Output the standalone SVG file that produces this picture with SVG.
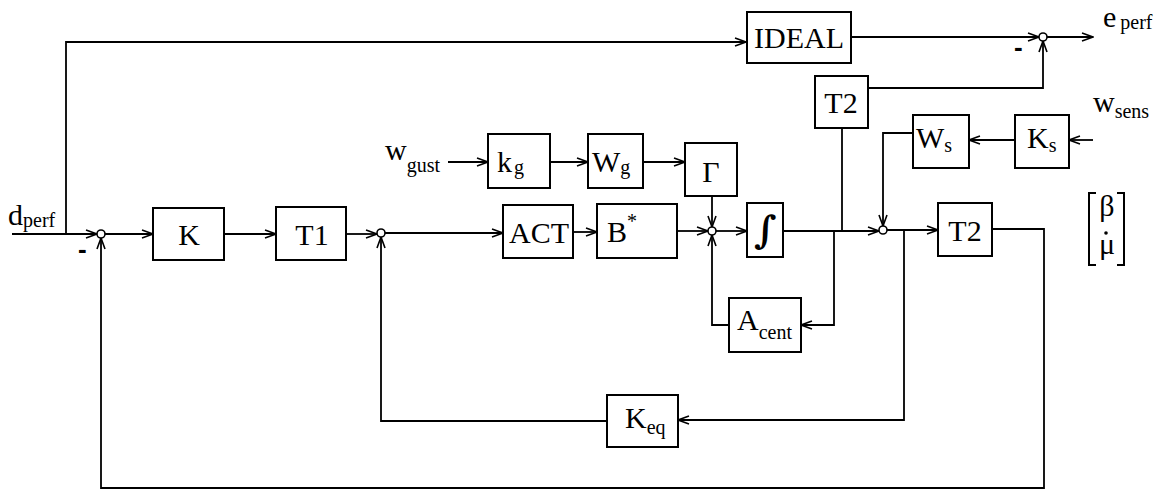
<svg xmlns="http://www.w3.org/2000/svg" width="1156" height="491" viewBox="0 0 1156 491">
<style>
.box{fill:#fff;stroke:#000;stroke-width:2}
.ln{fill:none;stroke:#000;stroke-width:1.8}
.sum{fill:#fff;stroke:#000;stroke-width:1.6}
.t{font-family:"Liberation Serif","Times New Roman",serif;font-size:30px;fill:#000}
.c{text-anchor:middle}
.sub{font-size:20px}
.minus{font-family:"Liberation Sans",Arial,sans-serif;font-size:26px;font-weight:bold;fill:#000}
</style>
<defs>
<marker id="ah" markerWidth="13" markerHeight="10" refX="12" refY="5" orient="auto" markerUnits="userSpaceOnUse">
<path d="M1,1 L12,5 L1,9" fill="none" stroke="#000" stroke-width="1.6"/>
</marker>
</defs>
<rect width="1156" height="491" fill="#fff"/>
<g id="connectors">
<path class="ln" d="M12,234 H97" marker-end="url(#ah)"/>
<path class="ln" d="M66,234 V42 H746" marker-end="url(#ah)"/>
<path class="ln" d="M105,234 H153" marker-end="url(#ah)"/>
<path class="ln" d="M224,234 H276" marker-end="url(#ah)"/>
<path class="ln" d="M346,234 H377" marker-end="url(#ah)"/>
<path class="ln" d="M385,233 H503" marker-end="url(#ah)"/>
<path class="ln" d="M573,232 H597" marker-end="url(#ah)"/>
<path class="ln" d="M677,231 H708" marker-end="url(#ah)"/>
<path class="ln" d="M716,231 H747" marker-end="url(#ah)"/>
<path class="ln" d="M783,231 H879" marker-end="url(#ah)"/>
<path class="ln" d="M887,230 H938" marker-end="url(#ah)"/>
<path class="ln" d="M992,229 H1044 V488 H101 V238" marker-end="url(#ah)"/>
<path class="ln" d="M904,230 V420 H678" marker-end="url(#ah)"/>
<path class="ln" d="M607,421 H381 V237" marker-end="url(#ah)"/>
<path class="ln" d="M834,231 V325 H801" marker-end="url(#ah)"/>
<path class="ln" d="M729,325 H712 V235" marker-end="url(#ah)"/>
<path class="ln" d="M712,196 V227" marker-end="url(#ah)"/>
<path class="ln" d="M448,162 H488" marker-end="url(#ah)"/>
<path class="ln" d="M550,162 H588" marker-end="url(#ah)"/>
<path class="ln" d="M643,162 H685" marker-end="url(#ah)"/>
<path class="ln" d="M1093,140 H1069" marker-end="url(#ah)"/>
<path class="ln" d="M1015,140 H969" marker-end="url(#ah)"/>
<path class="ln" d="M913,133 H883 V226" marker-end="url(#ah)"/>
<path class="ln" d="M842,230 V128"/>
<path class="ln" d="M868,88 H1043 V41" marker-end="url(#ah)"/>
<path class="ln" d="M851,37 H1039" marker-end="url(#ah)"/>
<path class="ln" d="M1047,37 H1093" marker-end="url(#ah)"/>
</g>
<g id="sum1"><circle class="sum" cx="101" cy="234" r="4"/><text class="minus" x="78" y="258">-</text></g>
<g id="sum3"><circle class="sum" cx="381" cy="233" r="4"/></g>
<g id="sum4"><circle class="sum" cx="712" cy="231" r="4"/></g>
<g id="sum2"><circle class="sum" cx="883" cy="230" r="4"/></g>
<g id="sum5"><circle class="sum" cx="1043" cy="37" r="4"/><text class="minus" x="1014" y="56">-</text></g>
<g id="d_perf"><text class="t" x="8" y="225">d<tspan class="sub" dy="2">perf</tspan></text></g>
<g id="e_perf"><text class="t" x="1103" y="27">e<tspan class="sub" dx="4" dy="2">perf</tspan></text></g>
<g id="w_gust"><text class="t" x="385" y="160">w<tspan class="sub" dy="12">gust</tspan></text></g>
<g id="w_sens"><text class="t" x="1093" y="112">w<tspan class="sub" dy="6">sens</tspan></text></g>
<g id="K"><rect class="box" x="153" y="208" width="71" height="52"/><text class="t c" x="189" y="245">K</text></g>
<g id="T1"><rect class="box" x="276" y="207" width="70" height="53"/><text class="t c" x="312" y="245">T1</text></g>
<g id="ACT"><rect class="box" x="503" y="205" width="70" height="53"/><text class="t c" x="539" y="243">ACT</text></g>
<g id="Bstar"><rect class="box" x="597" y="204" width="80" height="54"/><text class="t" x="607" y="242">B<tspan class="sub" dy="-14">*</tspan></text></g>
<g id="integrator"><rect class="box" x="747" y="203" width="36" height="54"/><text class="c" x="765" y="243" style="font-family:'DejaVu Serif',serif;font-size:38px;font-weight:bold">∫</text></g>
<g id="T2_lower"><rect class="box" x="938" y="203" width="54" height="53"/><text class="t c" x="965" y="241">T2</text></g>
<g id="T2_upper"><rect class="box" x="815" y="76" width="53" height="52"/><text class="t c" x="841" y="113">T2</text></g>
<g id="IDEAL"><rect class="box" x="747" y="12" width="104" height="51"/><text class="t c" x="799" y="48">IDEAL</text></g>
<g id="k_g"><rect class="box" x="488" y="134" width="62" height="54"/><text class="t" x="497" y="172">k<tspan class="sub" dx="2" dy="2">g</tspan></text></g>
<g id="W_g"><rect class="box" x="588" y="134" width="55" height="54"/><text class="t" x="592" y="172">W<tspan class="sub" dy="2">g</tspan></text></g>
<g id="Gamma"><rect class="box" x="685" y="143" width="52" height="53"/><text class="t c" x="711" y="182">Γ</text></g>
<g id="W_s"><rect class="box" x="913" y="115" width="56" height="53"/><text class="t" x="916" y="148">W<tspan class="sub" dy="4">s</tspan></text></g>
<g id="K_s"><rect class="box" x="1015" y="115" width="54" height="53"/><text class="t" x="1027" y="148">K<tspan class="sub" dy="4">s</tspan></text></g>
<g id="A_cent"><rect class="box" x="729" y="298" width="72" height="54"/><text class="t" x="737" y="330">A<tspan class="sub" dy="9">cent</tspan></text></g>
<g id="K_eq"><rect class="box" x="607" y="395" width="71" height="52"/><text class="t" x="625" y="428">K<tspan class="sub" dy="6">eq</tspan></text></g>
<g id="state_vector">
<path class="ln" d="M1096,193 H1089 V265 H1096 M1117,193 H1124 V265 H1117" style="stroke-width:2"/>
<text class="t c" x="1107" y="216">β</text>
<text class="t c" x="1107" y="254">μ</text>
<circle cx="1106" cy="233" r="1.8" fill="#000"/>
</g>
</svg>
